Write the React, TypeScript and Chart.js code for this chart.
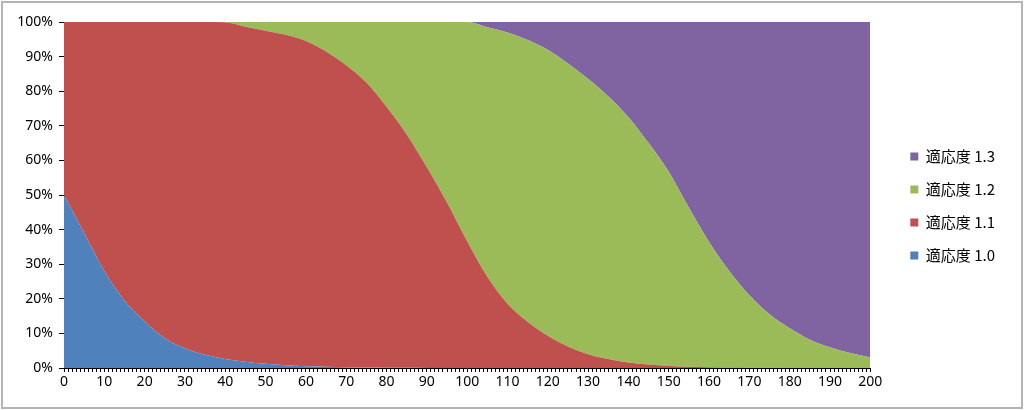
import React, { useEffect, useRef } from "react";
import { Chart, registerables } from "chart.js";

Chart.register(...registerables);

// Generation (x axis)
const generations = [
  0, 5, 10, 15, 20, 25, 30, 35, 40, 45, 50, 55, 60, 65, 70, 75, 80, 85, 90, 95, 100,
  105, 110, 115, 120, 125, 130, 135, 140, 145, 150, 155, 160, 165, 170, 175, 180, 185, 190, 195, 200,
];

// Share (%) of each fitness class
const fitness10 = [
  50, 39, 28, 19.5, 13.5, 8.6, 5.7, 3.8, 2.6, 1.8, 1.2, 0.8, 0.5, 0.35, 0.2, 0.12, 0.08, 0.05, 0.03, 0.02, 0.01,
  0, 0, 0, 0, 0, 0, 0, 0, 0, 0, 0, 0, 0, 0, 0, 0, 0, 0, 0, 0,
];
const fitness11 = [
  50, 61, 72, 80.5, 86.5, 91.4, 94.3, 96.2, 97.3, 96.8, 96.3, 95.5, 94, 91.15, 87.3, 82.38, 75.42, 67.45, 57.97, 47.78, 36.59,
  26.4, 18.6, 13.4, 9.3, 6.2, 4.0, 2.6, 1.6, 1.0, 0.6, 0.35, 0.2, 0.12, 0.08, 0.05, 0.03, 0.02, 0.01, 0.01, 0,
];
const fitness12 = [
  0, 0, 0, 0, 0, 0, 0, 0, 0.1, 1.4, 2.5, 3.7, 5.5, 8.5, 12.5, 17.5, 24.5, 32.5, 42, 52.2, 63.4,
  72.1, 78.4, 81.4, 82.7, 81.8, 79.5, 75.9, 70.9, 64, 56.1, 45.95, 36.2, 27.88, 20.92, 15.45, 11.47, 8.18, 5.99, 4.29, 3,
];
const fitness13 = [
  0, 0, 0, 0, 0, 0, 0, 0, 0, 0, 0, 0, 0, 0, 0, 0, 0, 0, 0, 0, 0,
  1.5, 3, 5.2, 8, 12, 16.5, 21.5, 27.5, 35, 43.3, 53.7, 63.6, 72, 79, 84.5, 88.5, 91.8, 94, 95.7, 97,
];

const seriesLabels = ["適応度 1.0", "適応度 1.1", "適応度 1.2", "適応度 1.3"];
const seriesColors = ["#4F81BD", "#C0504D", "#9BBB59", "#8064A2"];
const yTicks = [0, 10, 20, 30, 40, 50, 60, 70, 80, 90, 100];

const tickFont = { family: "'Noto Sans', 'Noto Sans CJK JP', sans-serif", size: 14 };
const legendFont = { family: "'Noto Sans CJK JP', 'Noto Sans', sans-serif", size: 15 };

const legendShift = {
  id: "legendShift",
  afterLayout(chart: any) {
    const l = chart.legend;
    if (!l) return;
    const dx = 22;
    const dy = -10;
    l.left += dx;
    l.right += dx;
    l.top += dy;
    l.bottom += dy;
  },
};

export default function App() {
  const ref = useRef<HTMLCanvasElement | null>(null);

  useEffect(() => {
    document.body.style.margin = "0";
    const canvas = ref.current;
    if (!canvas) return;
    const allSeries = [fitness10, fitness11, fitness12, fitness13];
    const chart = new Chart(canvas, {
      type: "line",
      data: {
        datasets: allSeries.map((s, i) => ({
          label: seriesLabels[i],
          data: s.map((v, j) => ({ x: generations[j], y: v })),
          backgroundColor: seriesColors[i],
          borderColor: "rgba(0,0,0,0)",
          borderWidth: 0,
          pointRadius: 0,
          fill: i === 0 ? "origin" : "-1",
          cubicInterpolationMode: "monotone",
        })),
      },
      options: {
        animation: false,
        responsive: false,
        maintainAspectRatio: false,
        layout: { padding: { top: 22, right: 41, bottom: 0, left: 0 } },
        plugins: {
          tooltip: { enabled: false },
          legend: {
            position: "right",
            reverse: true,
            labels: {
              boxWidth: 8,
              boxHeight: 8,
              padding: 18,
              color: "#000",
              font: legendFont,
            },
          },
        },
        scales: {
          x: {
            type: "linear",
            min: 0,
            max: 200,
            ticks: {
              stepSize: 1,
              autoSkip: false,
              maxRotation: 0,
              minRotation: 0,
              color: "#000",
              font: tickFont,
              padding: 2,
              callback: (v: any) => (Number(v) % 10 === 0 ? String(v) : ""),
            },
            grid: { drawOnChartArea: false, drawTicks: true, tickLength: 4, color: "#000" },
            border: { display: true, color: "#000", width: 1 },
            afterFit: (s: any) => {
              s.height = 42;
            },
          },
          y: {
            stacked: true,
            min: 0,
            max: 100,
            afterBuildTicks: (s: any) => {
              s.ticks = yTicks.map((v) => ({ value: v }));
            },
            ticks: {
              color: "#000",
              font: tickFont,
              padding: 6,
              callback: (v: any) => v + "%",
            },
            grid: { drawOnChartArea: false, drawTicks: true, tickLength: 5, color: "#000" },
            border: { display: true, color: "#000", width: 1 },
            afterFit: (s: any) => {
              s.width = 64;
            },
          },
        },
      },
      plugins: [legendShift],
    } as any);
    return () => chart.destroy();
  }, []);

  return (
    <div style={{ position: "relative", width: 1024, height: 410, background: "#fff" }}>
      <canvas ref={ref} width={1024} height={410} style={{ position: "absolute", left: 0, top: 0, width: 1024, height: 410 }} />
      <div
        style={{
          position: "absolute",
          left: 1,
          top: 1,
          width: 1022,
          height: 408,
          boxSizing: "border-box",
          border: "2px solid #b4b4b4",
          pointerEvents: "none",
        }}
      />
    </div>
  );
}
